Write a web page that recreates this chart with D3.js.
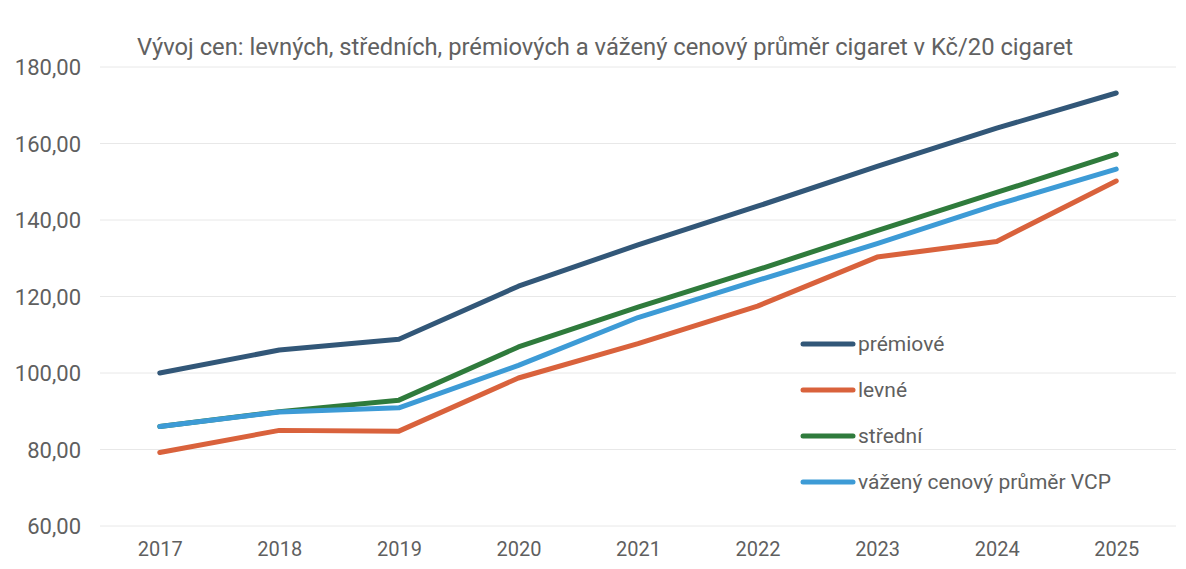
<!DOCTYPE html>
<html>
<head>
<meta charset="utf-8">
<script src="https://cdn.jsdelivr.net/npm/d3@7"></script>
<style>
  body { margin: 0; background: #fff; }
  svg { font-family: Roboto, "Open Sans", sans-serif; }
</style>
</head>
<body>
<div id="chart"></div>
<script>
// chart values
const years = ["2017", "2018", "2019", "2020", "2021", "2022", "2023", "2024", "2025"];
const premiove = [100.0, 106.0, 108.8, 122.7, 133.5, 143.6, 154.0, 164.0, 173.2];
const levne    = [79.2, 85.0, 84.8, 98.7, 107.7, 117.5, 130.3, 134.4, 150.2];
const stredni  = [86.0, 89.9, 92.9, 106.8, 117.2, 127.0, 137.2, 147.2, 157.2];
const vcp      = [86.0, 89.8, 90.9, 102.0, 114.5, 124.2, 133.8, 144.0, 153.3];
const yTicks = [60, 80, 100, 120, 140, 160, 180];
const title = "Vývoj cen: levných, středních, prémiových a vážený cenový průměr cigaret v Kč/20 cigaret";

const series = [
    {name: "prémiové", values: premiove, color: "#325778"},
    {name: "levné", values: levne, color: "#d9623c"},
    {name: "střední", values: stredni, color: "#2f7b3c"},
    {name: "vážený cenový průměr VCP", values: vcp, color: "#3d9bd6"}
];

const width = 1186, height = 569;

let svg = d3.select("#chart").append("svg")
    .attr("width", width)
    .attr("height", height);

let x = d3.scalePoint()
    .domain(years)
    .range([100, 1176])
    .padding(0.5);

let y = d3.scaleLinear()
    .domain([60, 180])
    .range([526, 67]);

// gridlines
svg.append("g")
    .selectAll("line")
    .data(yTicks)
    .enter().append("line")
    .attr("x1", 100)
    .attr("x2", 1176)
    .attr("y1", d => y(d))
    .attr("y2", d => y(d))
    .attr("stroke", "#e8e8e8")
    .attr("stroke-width", 1);

// y axis labels
let fmt = d => d3.format(".2f")(d).replace(".", ",");
let yAxis = d3.axisLeft(y)
    .tickValues(yTicks)
    .tickFormat(fmt)
    .tickSize(0)
    .tickPadding(0);

svg.append("g")
    .attr("transform", "translate(81,0)")
    .call(yAxis)
    .call(g => g.select(".domain").remove())
    .selectAll("text")
    .attr("fill", "#5f5f5f")
    .style("font-size", "22px")
    .style("font-family", "Roboto, sans-serif")
    .attr("dy", "0.35em");

// x axis labels
let xAxis = d3.axisBottom(x).tickSize(0).tickPadding(0);
svg.append("g")
    .attr("transform", "translate(0,549)")
    .call(xAxis)
    .call(g => g.select(".domain").remove())
    .selectAll("text")
    .attr("fill", "#5f5f5f")
    .style("font-size", "20px")
    .style("font-family", "Roboto, sans-serif")
    .attr("dy", "0.35em");

// lines
let line = d3.line()
    .x((d, i) => x(years[i]))
    .y(d => y(d));

svg.append("g")
    .selectAll("path")
    .data(series)
    .enter().append("path")
    .attr("d", d => line(d.values))
    .attr("fill", "none")
    .attr("stroke", d => d.color)
    .attr("stroke-width", 5)
    .attr("stroke-linecap", "round")
    .attr("stroke-linejoin", "round");

// title
svg.append("text")
    .attr("x", 137)
    .attr("y", 55)
    .attr("fill", "#616161")
    .attr("textLength", 936)
    .attr("lengthAdjust", "spacingAndGlyphs")
    .style("font-size", "23px")
    .text(title);

// legend
let legend = svg.append("g")
    .attr("transform", "translate(803,344)");

let items = legend.selectAll("g")
    .data(series)
    .enter().append("g")
    .attr("transform", (d, i) => `translate(0, ${i * 46})`);

items.append("line")
    .attr("x1", 0)
    .attr("x2", 50)
    .attr("stroke", d => d.color)
    .attr("stroke-width", 5)
    .attr("stroke-linecap", "round");

items.append("text")
    .attr("x", 55)
    .attr("dy", "0.35em")
    .attr("fill", "#5f5f5f")
    .style("font-size", "21px")
    .text(d => d.name);
</script>
</body>
</html>
